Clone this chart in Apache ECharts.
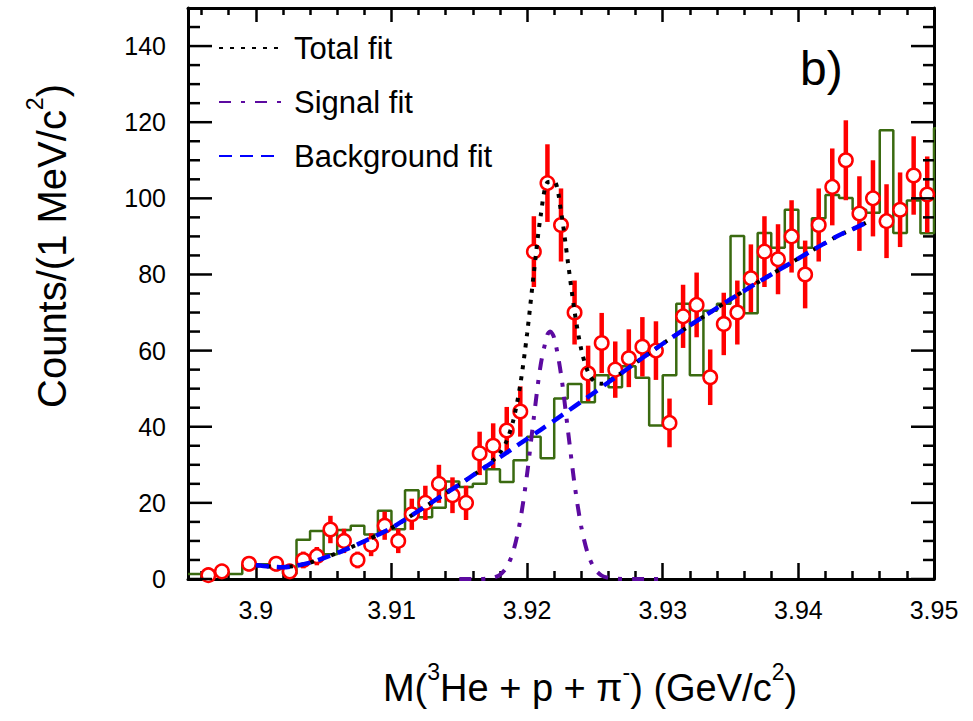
<!DOCTYPE html>
<html>
<head>
<meta charset="utf-8">
<script src="https://cdn.jsdelivr.net/npm/echarts@6/dist/echarts.min.js"></script>
<style>
html,body{margin:0;padding:0;background:#ffffff;}
#chart{width:973px;height:721px;}
</style>
</head>
<body>
<div id="chart"></div>
<script>
// ---------- data ----------
// data points (bin centres, counts, statistical errors)
const pointX = [3.8965,3.8975,3.8995,3.9015,3.9025,3.9035,3.9045,3.9055,3.9065,3.9075,3.9085,3.9095,3.9105,3.9115,3.9125,3.9135,3.9145,3.9155,3.9165,3.9175,3.9185,3.9195,3.9205,3.9215,3.9225,3.9235,3.9245,3.9255,3.9265,3.9275,3.9285,3.9295,3.9305,3.9315,3.9325,3.9335,3.9345,3.9355,3.9365,3.9375,3.9385,3.9395,3.9405,3.9415,3.9425,3.9435,3.9445,3.9455,3.9465,3.9475,3.9485,3.9495];
const counts = [1,2,4,4,2,5,6,13,10,5,9,14,10,17,20,25,22,20,33,35,39,44,86,104,93,70,54,62,55,58,61,60,41,69,72,53,67,70,79,86,84,90,80,93,103,110,96,100,94,97,106,101];
const countErr = [1.0,1.4,2.0,2.0,1.4,2.2,2.4,3.6,3.2,2.2,3.0,3.7,3.2,4.1,4.5,5.0,4.7,4.5,5.7,5.9,6.2,6.6,9.3,10.2,9.6,8.4,7.3,7.9,7.4,7.6,7.8,7.7,6.4,8.3,8.5,7.3,8.2,8.4,8.9,9.3,9.2,9.5,8.9,9.6,10.1,10.5,9.8,10.0,9.7,9.8,10.3,10.0];

// green step histogram (lower bin edges, contents)
const histX = [3.895,3.896,3.897,3.898,3.899,3.900,3.901,3.902,3.903,3.904,3.905,3.906,3.907,3.908,3.909,3.910,3.911,3.912,3.913,3.914,3.915,3.916,3.917,3.918,3.919,3.920,3.921,3.922,3.923,3.924,3.925,3.926,3.927,3.928,3.929,3.930,3.931,3.932,3.933,3.934,3.935,3.936,3.937,3.938,3.939,3.940,3.941,3.942,3.943,3.944,3.945,3.946,3.947,3.948,3.949,3.950,3.951];
const histY = [1.3,1.3,1.3,1.3,3.9,3.9,3.9,1.3,10.3,12.6,6.5,12.9,14.0,11.7,17.9,13.1,23.3,16.2,18.7,25.6,24.2,25.0,28.8,25.5,31.2,37.4,31.7,47.4,51.2,46.4,53.5,50.4,55.9,52.9,40.3,53.5,72.3,53.5,70.5,72.3,90.1,69.8,90.9,87.0,97.0,87.0,94.8,100.9,100.1,97.0,96.2,117.9,90.9,99.4,90.8,118.4,118.4];

// background fit curve
const bgX = [3.900,3.901,3.902,3.903,3.904,3.905,3.906,3.907,3.908,3.909,3.910,3.911,3.912,3.913,3.914,3.915,3.916,3.917,3.918,3.919,3.920,3.921,3.922,3.923,3.924,3.925,3.926,3.927,3.928,3.929,3.930,3.931,3.932,3.933,3.934,3.935,3.936,3.937,3.938,3.939,3.940,3.941,3.942,3.943,3.944,3.945];
const bgY = [3.6,3.3,3.1,3.5,4.3,5.5,6.8,8.3,9.9,11.6,13.4,15.6,17.9,20.2,22.5,24.8,27.2,29.6,32.0,34.4,36.8,39.2,41.6,44.1,46.6,49.1,51.7,54.2,56.8,59.3,61.8,64.2,66.6,68.9,71.2,73.5,75.7,77.9,80.0,82.1,84.2,86.3,88.3,90.3,91.9,93.6];

// total fit curve
const totX = [3.900,3.901,3.902,3.903,3.904,3.905,3.906,3.907,3.908,3.909,3.910,3.911,3.912,3.913,3.914,3.915,3.9155,3.916,3.9165,3.917,3.9175,3.918,3.9185,3.919,3.9195,3.920,3.9205,3.921,3.9215,3.922,3.9225,3.923,3.9235,3.924,3.9245,3.925,3.9255,3.926,3.927,3.928,3.929,3.930,3.931,3.932,3.933,3.934,3.935,3.936,3.937,3.938,3.939,3.940,3.941,3.942,3.943,3.944,3.945];
const totY = [3.6,3.3,3.1,3.5,4.3,5.5,6.8,8.3,9.9,11.6,13.4,15.6,17.9,20.2,22.5,24.8,26.0,27.2,28.4,29.7,31.2,33.1,36.3,41.9,51.1,64.4,80.5,95.4,104.2,104.4,96.6,83.5,70.3,60.2,54.3,51.7,51.3,52.0,54.2,56.8,59.3,61.8,64.2,66.6,68.9,71.2,73.5,75.7,77.9,80.0,82.1,84.2,86.3,88.3,90.3,91.9,93.6];

// signal fit curve
const sigX = [3.915,3.9155,3.916,3.9165,3.917,3.9175,3.918,3.9185,3.919,3.9195,3.920,3.9205,3.921,3.9215,3.9217,3.922,3.9225,3.923,3.9235,3.924,3.9245,3.925,3.9255,3.926,3.9265,3.927,3.928,3.929,3.930];
const sigY = [0,0,0,0,0.1,0.35,1.1,3.1,7.5,15.5,27.6,42.5,56.2,64.2,65.0,63.3,53.8,39.4,24.9,13.6,6.4,2.6,0.9,0.3,0.1,0,0,0,0];

// axis ticks
const xMajorTicks = [3.90,3.91,3.92,3.93,3.94,3.95];
const yMajorTicks = [0,20,40,60,80,100,120,140];
const legendLabels = ['Total fit','Signal fit','Background fit'];

// ---------- helpers ----------
const X_MIN = 3.895, X_MAX = 3.95, Y_MIN = 0, Y_MAX = 150;
const xMinorTicks = [];
for (let k = 1948; k <= 1975; k++) { if (k % 5 !== 0) xMinorTicks.push(Math.round(k * 2) / 1000); }
const yMinorTicks = [];
for (let v = 5; v < 150; v += 5) { if (v % 20 !== 0) yMinorTicks.push(v); }

const pairs = (xs, ys) => xs.map((x, i) => [x, ys[i]]);

const FONT = 'Liberation Sans';
const BLACK = '#000000';
const INK = '#010101';

function xAx(pos, ticks, len, color, withLabels, lineColor) {
  const ax = {
    type: 'value', min: X_MIN, max: X_MAX, position: pos,
    axisLine: { show: !!lineColor, onZero: false, lineStyle: { color: lineColor || INK, width: 3 } },
    axisTick: { show: true, inside: true, length: len, customValues: ticks, lineStyle: { color: color, width: 2.5 } },
    splitLine: { show: false },
    axisLabel: withLabels ? { customValues: xMajorTicks, color: BLACK, fontFamily: FONT, fontSize: 25, margin: 18 } : { show: false }
  };
  return ax;
}

// left/right ticks as custom series: [y, length]
const leftTicks = yMajorTicks.map(v => [X_MIN, v, 24]).concat(yMinorTicks.map(v => [X_MIN, v, 12]));
const rightTicks = yMajorTicks.map(v => [X_MIN, v, 23]).concat(yMinorTicks.map(v => [X_MIN, v, 11]));

function yTickSeries(name, data, side, color) {
  return {
    name: name, type: 'custom', clip: false, z: 9, data: data, encode: { x: 0, y: 1 },
    renderItem: function (params, api) {
      const cs = params.coordSys;
      const py = api.coord([X_MIN, api.value(1)])[1];
      const len = api.value(2);
      const x1 = side === 'left' ? cs.x : cs.x + cs.width;
      const x2 = side === 'left' ? x1 + len : x1 - len;
      return { type: 'line', shape: { x1: x1, y1: py, x2: x2, y2: py }, style: { stroke: color, lineWidth: 2.5 } };
    }
  };
}

const supRich = { sup: { fontFamily: FONT, fontSize: 23, lineHeight: 23, verticalAlign: 'top', color: BLACK } };

const chart = echarts.init(document.getElementById('chart'), null, { renderer: 'svg' });

const xAxes = [
  xAx('bottom', xMajorTicks, 16, INK, true, BLACK),
  xAx('bottom', xMinorTicks, 8, INK, false, null),
  xAx('top', xMajorTicks, 14, BLACK, false, INK),
  xAx('top', xMinorTicks, 7, BLACK, false, null)
];
xAxes[0].name = 'M({sup|3}He + p + \u03c0{sup|-}) (GeV/c{sup|2})';
xAxes[0].nameLocation = 'middle';
xAxes[0].nameGap = 81;
xAxes[0].nameTextStyle = { fontFamily: FONT, fontSize: 38, color: BLACK, lineHeight: 56, padding: [0, 0, 0, 58], rich: supRich };

chart.setOption({
  animation: false,
  grid: { left: 188, top: 8, right: 39, bottom: 140 },
  title: [
    { text: 'b)', left: 800, top: 43, padding: 0,
      textStyle: { fontFamily: FONT, fontSize: 48, fontWeight: 'normal', color: BLACK, lineHeight: 50 } }
  ],
  legend: {
    data: legendLabels, orient: 'vertical', left: 218, top: 30, padding: 0,
    itemWidth: 62, itemHeight: 8, itemGap: 18, selectedMode: false,
    itemStyle: { color: 'transparent', borderColor: 'transparent', borderWidth: 0, opacity: 0 },
    textStyle: { fontFamily: FONT, fontSize: 31, color: BLACK, padding: [0, 0, 0, 8], lineHeight: 36 }
  },
  xAxis: xAxes,
  yAxis: [
    { type: 'value', min: Y_MIN, max: Y_MAX, position: 'left',
      axisLine: { show: true, onZero: false, lineStyle: { color: BLACK, width: 3 } },
      axisTick: { show: false }, splitLine: { show: false },
      axisLabel: { customValues: yMajorTicks, color: BLACK, fontFamily: FONT, fontSize: 25, margin: 22 },
      name: 'Counts/(1 MeV/c{sup|2})', nameLocation: 'middle', nameRotate: 90, nameGap: 107,
      nameTextStyle: { fontFamily: FONT, fontSize: 40, color: BLACK, lineHeight: 58,
                       padding: [0, 0, 0, 95], rich: supRich } },
    { type: 'value', min: Y_MIN, max: Y_MAX, position: 'right',
      axisLine: { show: true, onZero: false, lineStyle: { color: INK, width: 3 } },
      axisTick: { show: false }, splitLine: { show: false }, axisLabel: { show: false } }
  ],
  series: [
    { name: 'MC', type: 'line', step: 'end', data: pairs(histX, histY), showSymbol: false, symbol: 'none',
      clip: true, z: 2, lineStyle: { color: '#3a6a10', width: 2.5 } },
    { name: 'errors', type: 'custom', clip: true, z: 3,
      data: pointX.map((x, i) => [x, counts[i], countErr[i]]), encode: { x: 0, y: 1 },
      renderItem: function (params, api) {
        const x = api.value(0), y = api.value(1), e = api.value(2);
        const p1 = api.coord([x, Math.max(0, y - e)]);
        const p2 = api.coord([x, y + e]);
        return { type: 'line', shape: { x1: p1[0], y1: p1[1], x2: p2[0], y2: p2[1] },
                 style: { stroke: '#ff0000', lineWidth: 4.5 } };
      } },
    { name: 'Data', type: 'scatter', data: pairs(pointX, counts), z: 4, symbol: 'circle', symbolSize: 13.5,
      clip: false, itemStyle: { color: '#ffffff', borderColor: '#ff0000', borderWidth: 2.5, opacity: 1 } },
    { name: 'Total fit', type: 'line', data: pairs(totX, totY), smooth: 0.3, showSymbol: false, symbol: 'none', z: 5,
      lineStyle: { color: '#000000', width: 4, type: [4, 7], cap: 'butt' } },
    { name: 'Background fit', type: 'line', data: pairs(bgX, bgY), smooth: 0.3, showSymbol: false, symbol: 'none', z: 6,
      lineStyle: { color: '#0000ff', width: 4.5, type: [13, 8], cap: 'butt' } },
    { name: 'Signal fit', type: 'line', data: pairs(sigX, sigY), smooth: 0.3, showSymbol: false, symbol: 'none', z: 7,
      lineStyle: { color: '#5c0aa0', width: 4, type: [12, 10, 4, 10], cap: 'butt' } },
    yTickSeries('ticksLeft', leftTicks, 'left', BLACK),
    yTickSeries('ticksRight', rightTicks, 'right', INK)
  ]
});
</script>
</body>
</html>
